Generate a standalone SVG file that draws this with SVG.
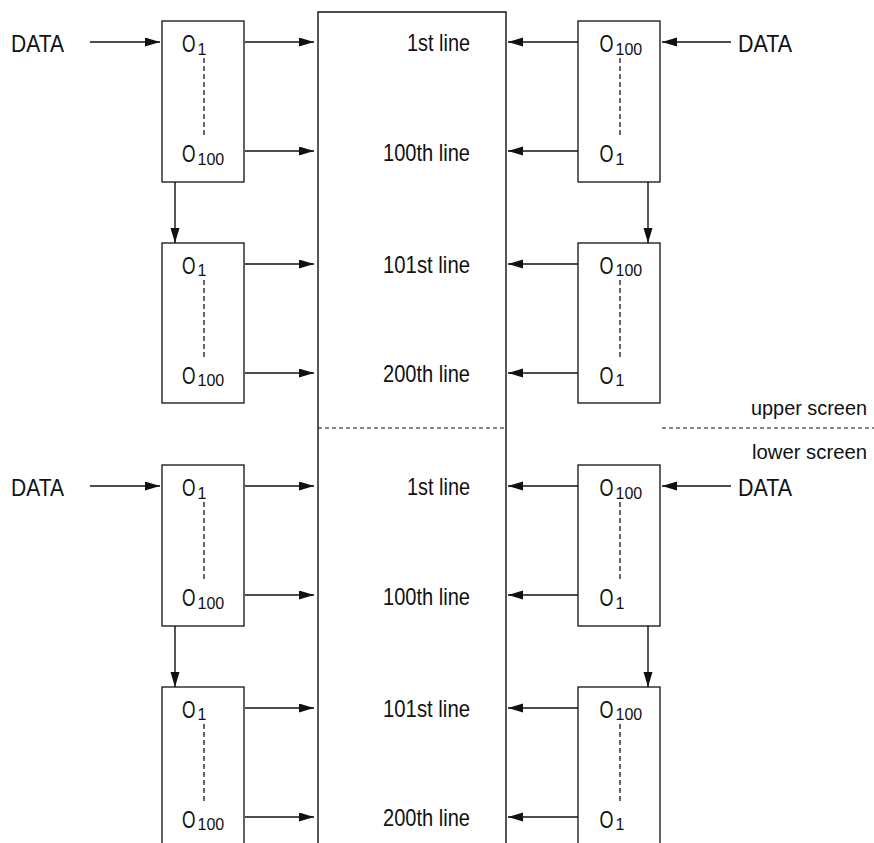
<svg xmlns="http://www.w3.org/2000/svg" width="874" height="843" viewBox="0 0 874 843">
<style>
  .t { font-family: "Liberation Sans", Arial, sans-serif; font-size: 24px; fill: #111; }
  .u { font-family: "Liberation Sans", Arial, sans-serif; font-size: 21px; fill: #111; }
  .s { font-size: 16px; }
  .box { fill: #fff; stroke: #222; stroke-width: 1.4; }
  .ln { stroke: #111; stroke-width: 1.4; fill: none; }
  .arr { stroke: #111; stroke-width: 1.4; fill: none; marker-end: url(#ah); }
  .dash { stroke: #111; stroke-width: 1.3; fill: none; stroke-dasharray: 5 3; }
  .sep { stroke: #111; stroke-width: 1.2; fill: none; stroke-dasharray: 4 3; }
</style>
<defs>
  <marker id="ah" markerUnits="userSpaceOnUse" markerWidth="16" markerHeight="10" refX="15" refY="4.5" orient="auto">
    <path d="M0,0 L15,4.5 L0,9 z" fill="#111"/>
  </marker>
</defs>
<rect width="874" height="843" fill="#fff"/>

<g id="screen">
  <path class="ln" d="M318,850 V12 H506 V850"/>
  <line class="sep" x1="318" y1="428" x2="506" y2="428"/>
  <line class="sep" x1="662" y1="428" x2="874" y2="428"/>
  <text class="t" x="407" y="51" textLength="63" lengthAdjust="spacingAndGlyphs">1st line</text>
  <text class="t" x="383" y="160.5" textLength="87" lengthAdjust="spacingAndGlyphs">100th line</text>
  <text class="t" x="383" y="273" textLength="87" lengthAdjust="spacingAndGlyphs">101st line</text>
  <text class="t" x="383" y="382" textLength="87" lengthAdjust="spacingAndGlyphs">200th line</text>
  <text class="t" x="407" y="495" textLength="63" lengthAdjust="spacingAndGlyphs">1st line</text>
  <text class="t" x="383" y="604.5" textLength="87" lengthAdjust="spacingAndGlyphs">100th line</text>
  <text class="t" x="383" y="717" textLength="87" lengthAdjust="spacingAndGlyphs">101st line</text>
  <text class="t" x="383" y="826" textLength="87" lengthAdjust="spacingAndGlyphs">200th line</text>
  <text class="u" x="751" y="415" textLength="116" lengthAdjust="spacingAndGlyphs">upper screen</text>
  <text class="u" x="752" y="459" textLength="115" lengthAdjust="spacingAndGlyphs">lower screen</text>
</g>

<g id="data-labels">
  <text class="t" x="11" y="52" textLength="53" lengthAdjust="spacingAndGlyphs">DATA</text>
  <text class="t" x="738" y="52" textLength="54" lengthAdjust="spacingAndGlyphs">DATA</text>
  <text class="t" x="11" y="496" textLength="53" lengthAdjust="spacingAndGlyphs">DATA</text>
  <text class="t" x="738" y="496" textLength="54" lengthAdjust="spacingAndGlyphs">DATA</text>
</g>

<g id="box-L1">
  <rect class="box" x="162" y="21" width="82" height="161"/>
  <line class="dash" x1="204" y1="58" x2="204" y2="138"/>
  <text class="t" x="182" y="52"><tspan textLength="13.5" lengthAdjust="spacingAndGlyphs">O</tspan><tspan class="s" x="197.5" y="54.5">1</tspan></text>
  <text class="t" x="182" y="162"><tspan textLength="13.5" lengthAdjust="spacingAndGlyphs">O</tspan><tspan class="s" x="197.5" y="164.5">100</tspan></text>
</g>
<g id="box-L2">
  <rect class="box" x="162" y="243" width="82" height="160"/>
  <line class="dash" x1="204" y1="280" x2="204" y2="360"/>
  <text class="t" x="182" y="273.5"><tspan textLength="13.5" lengthAdjust="spacingAndGlyphs">O</tspan><tspan class="s" x="197.5" y="276">1</tspan></text>
  <text class="t" x="182" y="383.5"><tspan textLength="13.5" lengthAdjust="spacingAndGlyphs">O</tspan><tspan class="s" x="197.5" y="386">100</tspan></text>
</g>
<g id="box-R1">
  <rect class="box" x="578" y="21" width="82" height="161"/>
  <line class="dash" x1="620" y1="58" x2="620" y2="138"/>
  <text class="t" x="599.5" y="52"><tspan textLength="14" lengthAdjust="spacingAndGlyphs">O</tspan><tspan class="s" x="615.5" y="54.5">100</tspan></text>
  <text class="t" x="599.5" y="162"><tspan textLength="14" lengthAdjust="spacingAndGlyphs">O</tspan><tspan class="s" x="615.5" y="164.5">1</tspan></text>
</g>
<g id="box-R2">
  <rect class="box" x="578" y="243" width="82" height="160"/>
  <line class="dash" x1="620" y1="280" x2="620" y2="360"/>
  <text class="t" x="599.5" y="273.5"><tspan textLength="14" lengthAdjust="spacingAndGlyphs">O</tspan><tspan class="s" x="615.5" y="276">100</tspan></text>
  <text class="t" x="599.5" y="383.5"><tspan textLength="14" lengthAdjust="spacingAndGlyphs">O</tspan><tspan class="s" x="615.5" y="386">1</tspan></text>
</g>

<g id="box-L3">
  <rect class="box" x="162" y="465" width="82" height="161"/>
  <line class="dash" x1="204" y1="502" x2="204" y2="582"/>
  <text class="t" x="182" y="496"><tspan textLength="13.5" lengthAdjust="spacingAndGlyphs">O</tspan><tspan class="s" x="197.5" y="498.5">1</tspan></text>
  <text class="t" x="182" y="606"><tspan textLength="13.5" lengthAdjust="spacingAndGlyphs">O</tspan><tspan class="s" x="197.5" y="608.5">100</tspan></text>
</g>
<g id="box-L4">
  <rect class="box" x="162" y="687" width="82" height="170"/>
  <line class="dash" x1="204" y1="724" x2="204" y2="804"/>
  <text class="t" x="182" y="717.5"><tspan textLength="13.5" lengthAdjust="spacingAndGlyphs">O</tspan><tspan class="s" x="197.5" y="720">1</tspan></text>
  <text class="t" x="182" y="827.5"><tspan textLength="13.5" lengthAdjust="spacingAndGlyphs">O</tspan><tspan class="s" x="197.5" y="830">100</tspan></text>
</g>
<g id="box-R3">
  <rect class="box" x="578" y="465" width="82" height="161"/>
  <line class="dash" x1="620" y1="502" x2="620" y2="582"/>
  <text class="t" x="599.5" y="496"><tspan textLength="14" lengthAdjust="spacingAndGlyphs">O</tspan><tspan class="s" x="615.5" y="498.5">100</tspan></text>
  <text class="t" x="599.5" y="606"><tspan textLength="14" lengthAdjust="spacingAndGlyphs">O</tspan><tspan class="s" x="615.5" y="608.5">1</tspan></text>
</g>
<g id="box-R4">
  <rect class="box" x="578" y="687" width="82" height="170"/>
  <line class="dash" x1="620" y1="724" x2="620" y2="804"/>
  <text class="t" x="599.5" y="717.5"><tspan textLength="14" lengthAdjust="spacingAndGlyphs">O</tspan><tspan class="s" x="615.5" y="720">100</tspan></text>
  <text class="t" x="599.5" y="827.5"><tspan textLength="14" lengthAdjust="spacingAndGlyphs">O</tspan><tspan class="s" x="615.5" y="830">1</tspan></text>
</g>

<g id="connectors">
  <line class="arr" x1="90" y1="42" x2="160" y2="42"/>
  <line class="arr" x1="245" y1="42" x2="314" y2="42"/>
  <line class="arr" x1="245" y1="151" x2="314" y2="151"/>
  <line class="arr" x1="175" y1="182" x2="175" y2="243"/>
  <line class="arr" x1="245" y1="264" x2="314" y2="264"/>
  <line class="arr" x1="245" y1="373" x2="314" y2="373"/>
  <line class="arr" x1="731" y1="42" x2="662" y2="42"/>
  <line class="arr" x1="578" y1="42" x2="508" y2="42"/>
  <line class="arr" x1="578" y1="151" x2="508" y2="151"/>
  <line class="arr" x1="648" y1="182" x2="648" y2="243"/>
  <line class="arr" x1="578" y1="264" x2="508" y2="264"/>
  <line class="arr" x1="578" y1="373" x2="508" y2="373"/>

  <line class="arr" x1="90" y1="486" x2="160" y2="486"/>
  <line class="arr" x1="245" y1="486" x2="314" y2="486"/>
  <line class="arr" x1="245" y1="595" x2="314" y2="595"/>
  <line class="arr" x1="175" y1="626" x2="175" y2="687"/>
  <line class="arr" x1="245" y1="708" x2="314" y2="708"/>
  <line class="arr" x1="245" y1="817" x2="314" y2="817"/>
  <line class="arr" x1="731" y1="486" x2="662" y2="486"/>
  <line class="arr" x1="578" y1="486" x2="508" y2="486"/>
  <line class="arr" x1="578" y1="595" x2="508" y2="595"/>
  <line class="arr" x1="648" y1="626" x2="648" y2="687"/>
  <line class="arr" x1="578" y1="708" x2="508" y2="708"/>
  <line class="arr" x1="578" y1="817" x2="508" y2="817"/>
</g>
</svg>
